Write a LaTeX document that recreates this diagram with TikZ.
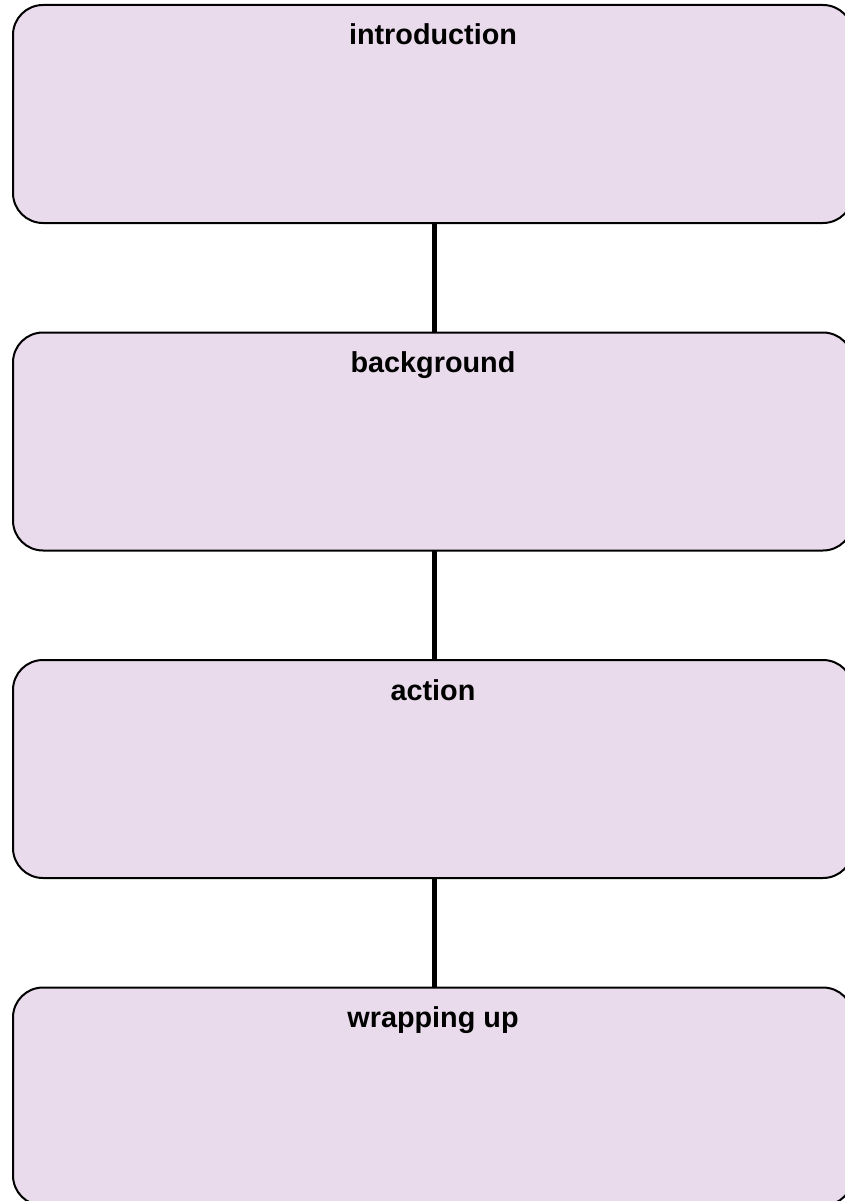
\documentclass[tikz,border=0pt]{standalone}
\usepackage{fontspec}
\setmainfont{Liberation Sans}
\definecolor{boxfill}{RGB}{234,219,236}
\tikzset{
  stagebox/.style={draw=black, fill=boxfill, line width=2pt, rounded corners=30pt,
    minimum width=840pt, minimum height=218pt, inner sep=0pt, outer sep=0pt},
  stagelabel/.style={font=\fontsize{28.8}{34}\selectfont\bfseries, anchor=base, inner sep=0pt, yshift=-40pt},
  link/.style={line width=5pt, draw=black}
}
\begin{document}
\begin{tikzpicture}[x=1pt,y=-1pt]
\useasboundingbox (0,0) rectangle (845,1201);
\clip (0,0) rectangle (845,1201);
\node[stagebox, label={[stagelabel]north:introduction}] (b1) at (433,114) {};
\node[stagebox, label={[stagelabel]north:background}] (b2) at (433,441.5) {};
\node[stagebox, label={[stagelabel]north:action}] (b3) at (433,769) {};
\node[stagebox, label={[stagelabel]north:wrapping up}] (b4) at (433,1096.5) {};
\draw[link] ([xshift=1pt]b1.south) -- ([xshift=1pt]b2.north);
\draw[link] ([xshift=1pt]b2.south) -- ([xshift=1pt]b3.north);
\draw[link] ([xshift=1pt]b3.south) -- ([xshift=1pt]b4.north);
\end{tikzpicture}
\end{document}
